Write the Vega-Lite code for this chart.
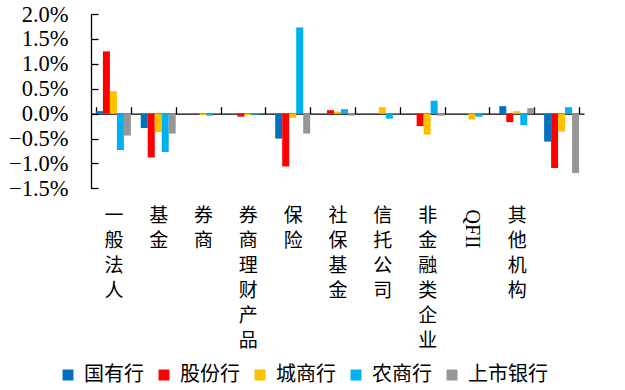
{
  "$schema": "https://vega.github.io/schema/vega-lite/v6.json",
  "width": 493,
  "height": 174.4,
  "autosize": {"type": "none"},
  "padding": {"left": 91, "top": 14, "right": 41, "bottom": 201.6},
  "background": "white",
  "data": {
    "values": [
      {"机构": "一般法人", "类型": "国有行", "值": 0.0005},
      {"机构": "一般法人", "类型": "股份行", "值": 0.0125},
      {"机构": "一般法人", "类型": "城商行", "值": 0.0045},
      {"机构": "一般法人", "类型": "农商行", "值": -0.0073},
      {"机构": "一般法人", "类型": "上市银行", "值": -0.0044},
      {"机构": "基金", "类型": "国有行", "值": -0.0029},
      {"机构": "基金", "类型": "股份行", "值": -0.0088},
      {"机构": "基金", "类型": "城商行", "值": -0.0037},
      {"机构": "基金", "类型": "农商行", "值": -0.0077},
      {"机构": "基金", "类型": "上市银行", "值": -0.0040},
      {"机构": "券商", "类型": "国有行", "值": 0.0},
      {"机构": "券商", "类型": "股份行", "值": 0.0},
      {"机构": "券商", "类型": "城商行", "值": -0.0003},
      {"机构": "券商", "类型": "农商行", "值": -0.0004},
      {"机构": "券商", "类型": "上市银行", "值": 0.0},
      {"机构": "券商理财产品", "类型": "国有行", "值": 0.0},
      {"机构": "券商理财产品", "类型": "股份行", "值": -0.0006},
      {"机构": "券商理财产品", "类型": "城商行", "值": -0.0003},
      {"机构": "券商理财产品", "类型": "农商行", "值": -0.0002},
      {"机构": "券商理财产品", "类型": "上市银行", "值": 0.0},
      {"机构": "保险", "类型": "国有行", "值": -0.0050},
      {"机构": "保险", "类型": "股份行", "值": -0.0106},
      {"机构": "保险", "类型": "城商行", "值": -0.0008},
      {"机构": "保险", "类型": "农商行", "值": 0.0173},
      {"机构": "保险", "类型": "上市银行", "值": -0.0040},
      {"机构": "社保基金", "类型": "国有行", "值": 0.0},
      {"机构": "社保基金", "类型": "股份行", "值": 0.0007},
      {"机构": "社保基金", "类型": "城商行", "值": 0.0004},
      {"机构": "社保基金", "类型": "农商行", "值": 0.0009},
      {"机构": "社保基金", "类型": "上市银行", "值": -0.0004},
      {"机构": "信托公司", "类型": "国有行", "值": 0.0},
      {"机构": "信托公司", "类型": "股份行", "值": 0.0},
      {"机构": "信托公司", "类型": "城商行", "值": 0.0013},
      {"机构": "信托公司", "类型": "农商行", "值": -0.0010},
      {"机构": "信托公司", "类型": "上市银行", "值": -0.0001},
      {"机构": "非金融类企业", "类型": "国有行", "值": 0.0},
      {"机构": "非金融类企业", "类型": "股份行", "值": -0.0025},
      {"机构": "非金融类企业", "类型": "城商行", "值": -0.0042},
      {"机构": "非金融类企业", "类型": "农商行", "值": 0.0026},
      {"机构": "非金融类企业", "类型": "上市银行", "值": -0.0004},
      {"机构": "QFII", "类型": "国有行", "值": 0.0},
      {"机构": "QFII", "类型": "股份行", "值": 0.0},
      {"机构": "QFII", "类型": "城商行", "值": -0.0012},
      {"机构": "QFII", "类型": "农商行", "值": -0.0006},
      {"机构": "QFII", "类型": "上市银行", "值": 0.0},
      {"机构": "其他机构", "类型": "国有行", "值": 0.0015},
      {"机构": "其他机构", "类型": "股份行", "值": -0.0017},
      {"机构": "其他机构", "类型": "城商行", "值": 0.0005},
      {"机构": "其他机构", "类型": "农商行", "值": -0.0023},
      {"机构": "其他机构", "类型": "上市银行", "值": 0.0011},
      {"机构": "", "类型": "国有行", "值": -0.0056},
      {"机构": "", "类型": "股份行", "值": -0.0109},
      {"机构": "", "类型": "城商行", "值": -0.0036},
      {"机构": "", "类型": "农商行", "值": 0.0013},
      {"机构": "", "类型": "上市银行", "值": -0.0119}
    ]
  },
  "resolve": {"axis": {"x": "independent", "y": "independent"}},
  "layer": [
    {
      "mark": {"type": "bar"},
      "encoding": {
        "x": {
          "field": "机构",
          "type": "nominal",
          "sort": ["一般法人", "基金", "券商", "券商理财产品", "保险", "社保基金", "信托公司", "非金融类企业", "QFII", "其他机构", ""],
          "scale": {"paddingInner": 0.22, "paddingOuter": 0.11},
          "axis": {
            "title": null,
            "orient": "bottom",
            "offset": -74.7,
            "domainColor": "#000000",
            "domainWidth": 1.3,
            "ticks": true,
            "tickColor": "#000000",
            "tickWidth": 1.3,
            "tickSize": -7,
            "tickBand": "extent",
            "labelAngle": 0,
            "labelPadding": 100,
            "labelBaseline": "top",
            "labelAlign": "center",
            "labelFont": "Noto Sans CJK SC",
            "labelFontSize": 19,
            "labelLineHeight": 25,
            "labelColor": "#000000",
            "labelExpr": "isString(datum.value) && datum.value !== 'QFII' ? split(datum.value, '') : ''",
            "labelOverlap": false,
            "labelBound": false
          }
        },
        "xOffset": {
          "field": "类型",
          "type": "nominal",
          "sort": ["国有行", "股份行", "城商行", "农商行", "上市银行"],
          "scale": {"paddingInner": 0, "paddingOuter": 0}
        },
        "y": {
          "field": "值",
          "type": "quantitative",
          "scale": {"domain": [-0.015, 0.02], "nice": false},
          "axis": {
            "title": null,
            "values": [-0.015, -0.01, -0.005, 0, 0.005, 0.01, 0.015, 0.02],
            "format": ".1%",
            "grid": false,
            "domainColor": "#000000",
            "domainWidth": 1.3,
            "ticks": true,
            "tickColor": "#000000",
            "tickWidth": 1.3,
            "tickSize": -7,
            "labelPadding": 30,
            "labelOverlap": false,
            "labelBound": false,
            "labelFlush": false,
            "labelFont": "Liberation Serif",
            "labelFontSize": 22.5,
            "labelColor": "#000000"
          }
        },
        "color": {
          "field": "类型",
          "type": "nominal",
          "sort": ["国有行", "股份行", "城商行", "农商行", "上市银行"],
          "scale": {
            "domain": ["国有行", "股份行", "城商行", "农商行", "上市银行"],
            "range": ["#0070C0", "#FF0000", "#FFC000", "#00B0F0", "#969696"]
          },
          "legend": {
            "title": null,
            "orient": "none",
            "direction": "horizontal",
            "legendX": -33,
            "legendY": 351,
            "symbolType": "square",
            "symbolSize": 120,
            "symbolStrokeWidth": 0,
            "labelFont": "Noto Sans CJK SC",
            "labelFontSize": 20,
            "labelColor": "#000000",
            "labelOffset": 6,
            "columnPadding": 10
          }
        }
      }
    },
    {
      "mark": {"type": "bar", "opacity": 0},
      "encoding": {
        "x": {
          "field": "机构",
          "type": "nominal",
          "sort": ["一般法人", "基金", "券商", "券商理财产品", "保险", "社保基金", "信托公司", "非金融类企业", "QFII", "其他机构", ""],
          "axis": {
            "title": null,
            "orient": "top",
            "offset": -234,
            "domain": false,
            "ticks": false,
            "labelAngle": 90,
            "labelPadding": 0,
            "labelAlign": "right",
            "labelBaseline": "middle",
            "labelFont": "Liberation Serif",
            "labelFontSize": 20,
            "labelColor": "#000000",
            "labelExpr": "datum.value === 'QFII' ? 'QFII' : ''",
            "labelOverlap": false,
            "labelBound": false
          }
        },
        "xOffset": {
          "field": "类型",
          "type": "nominal",
          "sort": ["国有行", "股份行", "城商行", "农商行", "上市银行"]
        },
        "y": {"field": "值", "type": "quantitative", "axis": null}
      }
    }
  ],
  "config": {"view": {"stroke": null}}
}
